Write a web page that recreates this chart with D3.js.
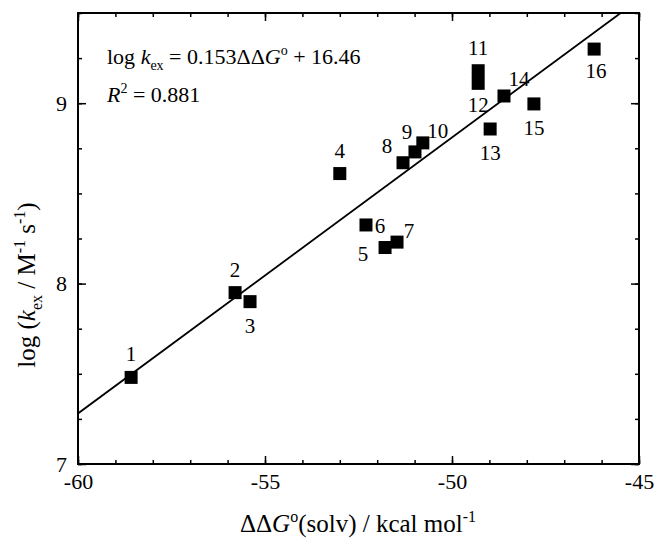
<!DOCTYPE html>
<html>
<head>
<meta charset="utf-8">
<script src="https://cdn.jsdelivr.net/npm/d3@7"></script>
<style>
  body { margin: 0; background: #fff; }
  svg text { font-family: "Liberation Serif", "Times New Roman", serif; fill: #000; }
</style>
</head>
<body>
<svg id="chart" width="656" height="544"></svg>
<script>
// data
var labels = ["1","2","3","4","5","6","7","8","9","10","11","12","13","14","15","16"];
var dG   = [-58.58, -55.80, -55.40, -53.00, -51.79, -52.30, -51.47, -51.31, -50.99, -50.78, -49.30, -49.30, -48.98, -48.61, -47.81, -46.20];
var logK = [7.48, 7.95, 7.90, 8.61, 8.20, 8.325, 8.23, 8.67, 8.73, 8.78, 9.18, 9.11, 8.857, 9.04, 8.996, 9.30];
// label offsets (dx, dy) from each square
var labelPos = [[0,-16],[0,-16],[0,31],[0,-16],[-22,13],[14,8],[12,-4],[-16,-10],[-8,-13],[15,-5],[0,-16],[0,29],[0,31],[15,-10],[0,31],[2,29]];
var xTicks = [-60, -55, -50, -45];
var yTicks = [7, 8, 9];
var slope = 0.153, intercept = 16.46;

var svg = d3.select("#chart");
var mLeft = 78, mRight = 639, mTop = 13, mBottom = 464;

var x = d3.scaleLinear().domain([-60, -45]).range([mLeft, mRight]);
var y = d3.scaleLinear().domain([7, 9.5]).range([mBottom, mTop]);

// minor ticks
var xMinor = d3.range(-60, -44.9, 1);
var yMinor = d3.range(7, 9.51, 0.25);

function tickStyle(g) {
  g.select(".domain").remove();
  g.selectAll("line").attr("stroke", "#000").attr("stroke-width", 1.5);
}
var fmt = d => String(d);

svg.append("g").attr("transform", `translate(0,${mBottom})`)
  .call(d3.axisBottom(x).tickValues(xMinor).tickSize(-4).tickFormat(""))
  .call(tickStyle);
svg.append("g").attr("transform", `translate(0,${mBottom})`)
  .call(d3.axisBottom(x).tickValues(xTicks).tickSize(-8).tickPadding(9).tickFormat(fmt))
  .call(tickStyle)
  .selectAll("text").attr("font-size", 22).attr("dy", "0.71em");
svg.append("g").attr("transform", `translate(0,${mTop})`)
  .call(d3.axisTop(x).tickValues(xMinor).tickSize(-4).tickFormat(""))
  .call(tickStyle);
svg.append("g").attr("transform", `translate(0,${mTop})`)
  .call(d3.axisTop(x).tickValues(xTicks).tickSize(-8).tickFormat(""))
  .call(tickStyle);

svg.append("g").attr("transform", `translate(${mLeft},0)`)
  .call(d3.axisLeft(y).tickValues(yMinor).tickSize(-4).tickFormat(""))
  .call(tickStyle);
svg.append("g").attr("transform", `translate(${mLeft},0)`)
  .call(d3.axisLeft(y).tickValues(yTicks).tickSize(-8).tickPadding(11).tickFormat(fmt))
  .call(tickStyle)
  .selectAll("text").attr("font-size", 22);
svg.append("g").attr("transform", `translate(${mRight},0)`)
  .call(d3.axisRight(y).tickValues(yMinor).tickSize(-4).tickFormat(""))
  .call(tickStyle);
svg.append("g").attr("transform", `translate(${mRight},0)`)
  .call(d3.axisRight(y).tickValues(yTicks).tickSize(-8).tickFormat(""))
  .call(tickStyle);

// frame
svg.append("rect")
  .attr("x", mLeft).attr("y", mTop)
  .attr("width", mRight - mLeft).attr("height", mBottom - mTop)
  .attr("fill", "none").attr("stroke", "#000").attr("stroke-width", 2);

// fit line, clipped to the frame
svg.append("clipPath").attr("id", "clip")
  .append("rect").attr("x", mLeft).attr("y", mTop).attr("width", mRight - mLeft).attr("height", mBottom - mTop);
var x0 = -60, x1 = (9.5 - intercept) / slope;
svg.append("line")
  .attr("clip-path", "url(#clip)")
  .attr("x1", x(x0)).attr("y1", y(slope * x0 + intercept))
  .attr("x2", x(x1)).attr("y2", y(slope * x1 + intercept))
  .attr("stroke", "#000").attr("stroke-width", 1.8);

// squares
var pts = labels.map((l, i) => ({label: l, x: dG[i], y: logK[i], off: labelPos[i]}));
var sq = 13;
svg.append("g").selectAll("rect")
  .data(pts).join("rect")
  .attr("x", d => x(d.x) - sq / 2).attr("y", d => y(d.y) - sq / 2)
  .attr("width", sq).attr("height", sq).attr("fill", "#000");

svg.append("g").selectAll("text")
  .data(pts).join("text")
  .attr("x", d => x(d.x) + d.off[0]).attr("y", d => y(d.y) + d.off[1])
  .attr("text-anchor", "middle").attr("font-size", 21)
  .text(d => d.label);

// equation
var eq = svg.append("text").attr("x", 107).attr("y", 64).attr("font-size", 22);
eq.append("tspan").text("log ");
eq.append("tspan").attr("font-style", "italic").text("k");
eq.append("tspan").attr("font-size", 14).attr("dy", 6).text("ex");
eq.append("tspan").attr("dy", -6).text(" = 0.153ΔΔ");
eq.append("tspan").attr("font-style", "italic").text("G");
eq.append("tspan").attr("font-size", 14).attr("dy", -9).text("o");
eq.append("tspan").attr("dy", 9).text(" + 16.46");

var r2 = svg.append("text").attr("x", 107).attr("y", 102).attr("font-size", 22);
r2.append("tspan").attr("font-style", "italic").text("R");
r2.append("tspan").attr("font-size", 14).attr("dy", -9).text("2");
r2.append("tspan").attr("dy", 9).text(" = 0.881");

// x axis title
var xt = svg.append("text").attr("x", 358).attr("y", 532).attr("text-anchor", "middle").attr("font-size", 25);
xt.append("tspan").text("ΔΔ");
xt.append("tspan").attr("font-style", "italic").text("G");
xt.append("tspan").attr("font-size", 16).attr("dy", -10).text("o");
xt.append("tspan").attr("dy", 10).text("(solv) / kcal mol");
xt.append("tspan").attr("font-size", 16).attr("dy", -10).text("-1");

// y axis title
var yt = svg.append("text").attr("transform", "translate(35,285) rotate(-90)")
  .attr("text-anchor", "middle").attr("font-size", 25);
yt.append("tspan").text("log (");
yt.append("tspan").attr("font-style", "italic").text("k");
yt.append("tspan").attr("font-size", 16).attr("dy", 7).text("ex");
yt.append("tspan").attr("dy", -7).text(" / M");
yt.append("tspan").attr("font-size", 16).attr("dy", -10).text("-1");
yt.append("tspan").attr("dy", 10).text(" s");
yt.append("tspan").attr("font-size", 16).attr("dy", -10).text("-1");
yt.append("tspan").attr("dy", 10).text(")");
</script>
</body>
</html>
